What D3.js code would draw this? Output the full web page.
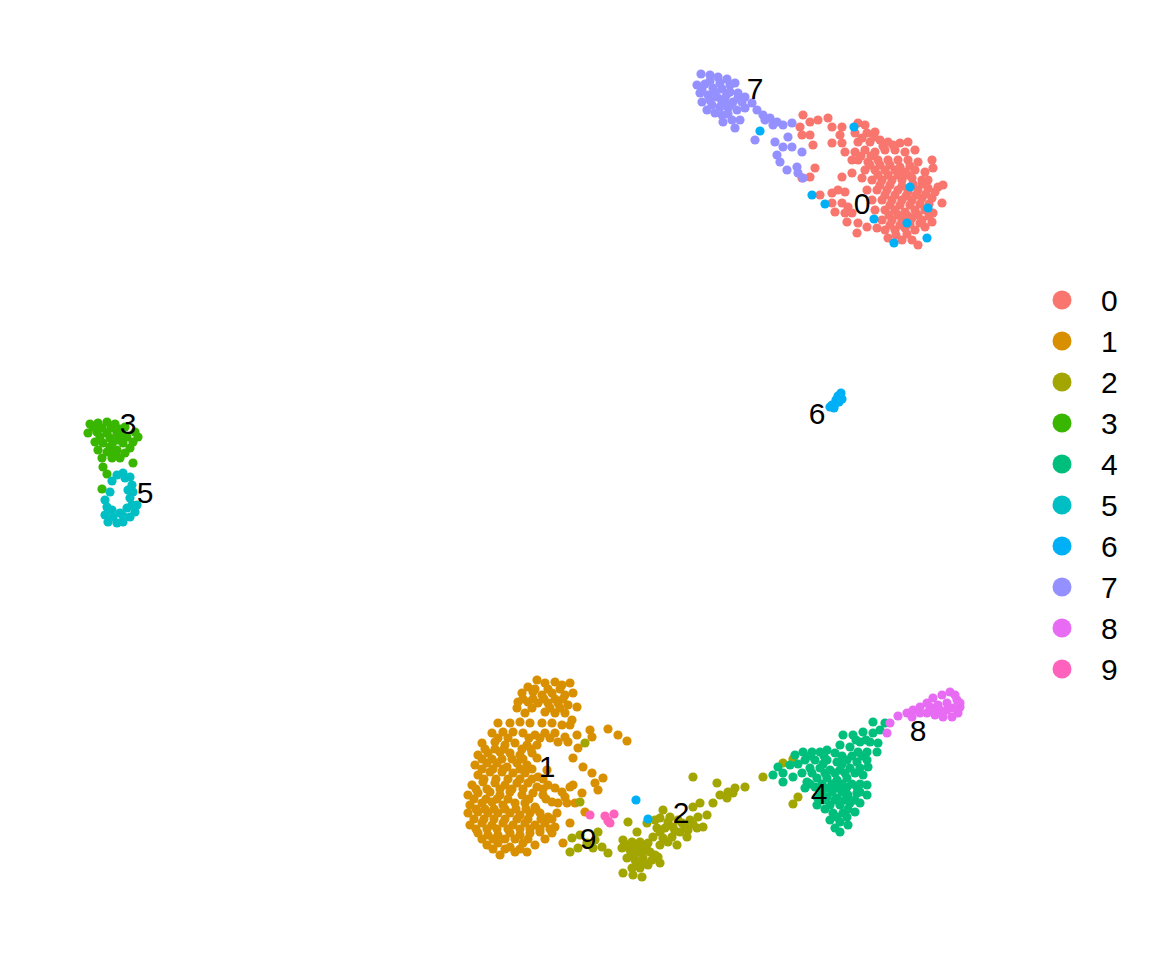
<!DOCTYPE html>
<html>
<head>
<meta charset="utf-8">
<script src="https://cdn.jsdelivr.net/npm/d3@7"></script>
<style>
  body { margin: 0; background: #fff; }
  svg { display: block; }
</style>
</head>
<body>
<svg width="1152" height="960"></svg>
<script>
// cluster ids
const clusters = ["0", "1", "2", "3", "4", "5", "6", "7", "8", "9"];

// UMAP coordinates per cluster, [UMAP_1, UMAP_2]
const c0 = [
  [28.3,36.5],[29.0,35.8],[28.0,35.3],[28.2,34.5],[29.0,34.5],[29.3,33.5],[29.8,36.0],[30.8,36.2],[31.2,35.3],[32.2,35.3],
  [32.0,34.5],[31.2,33.7],[32.2,33.7],[32.5,32.8],[33.2,32.0],[29.5,31.2],[29.0,30.3],[28.2,30.2],[32.2,30.3],[33.2,30.7],
  [30.0,28.5],[31.2,28.7],[31.8,29.0],[32.5,28.8],[31.2,27.7],[32.2,27.7],[32.8,27.3],[31.5,26.8],[32.5,26.7],[33.2,26.7],
  [32.7,25.8],[33.8,25.7],[33.7,24.7],[34.7,25.3],[35.7,25.2],
  [33.8,35.7],[34.5,35.5],[33.5,34.7],[34.7,34.7],[35.5,34.8],
  [33.8,33.8],[35.0,33.8],[36.0,34.0],[36.8,33.8],[38.0,33.7],[38.8,33.8],
  [33.5,32.8],[34.5,33.0],[35.5,32.8],[36.5,33.0],[37.5,33.0],[38.5,32.8],[39.5,33.0],
  [33.8,32.0],[34.8,31.8],[35.8,32.0],[36.8,32.0],[37.8,32.0],[38.8,32.0],[39.8,31.8],
  [34.5,31.0],[35.5,31.0],[36.5,31.0],[37.5,31.0],[38.5,30.8],[39.5,31.0],[40.5,30.8],[41.2,32.0],[41.3,31.2],
  [34.2,30.2],[35.2,30.0],[36.2,30.0],[37.2,30.0],[38.2,30.0],[39.2,30.2],[40.2,30.0],[40.8,30.0],
  [34.7,29.0],[35.7,29.0],[36.7,29.0],[37.8,29.0],[38.8,28.8],[39.8,29.0],[40.8,29.2],[41.8,29.3],[42.3,29.5],
  [35.2,28.0],[36.2,28.0],[37.2,28.0],[38.2,28.0],[39.2,28.0],[40.2,28.2],[41.2,28.2],[42.2,27.7],
  [35.5,27.0],[36.5,27.0],[37.5,27.0],[38.5,26.8],[39.5,27.0],[40.5,27.0],[41.3,26.7],
  [36.2,26.0],[37.2,26.0],[38.2,26.0],[39.2,26.2],[40.2,26.0],[41.2,25.8],
  [36.5,25.0],[37.5,25.0],[38.5,25.2],[39.5,25.0],[40.5,25.3],
  [36.8,24.2],[38.2,24.0],[39.2,24.0],[39.8,23.5],
  [35.0,31.5],[36.0,31.5],[37.0,31.5],[38.0,31.3],[39.0,31.4],[35.8,30.5],[36.8,30.5],[37.8,30.5],[38.8,30.5],
  [36.0,29.5],[37.0,29.5],[38.2,29.4],[39.3,29.6],[36.5,28.5],[37.5,28.5],[38.6,28.4],[39.6,28.5],
  [37.0,27.5],[38.0,27.5],[39.0,27.5],[40.0,27.6],[37.8,26.5],[38.8,26.4],[39.8,26.5],
  [34.2,34.2],[35.4,34.3],[36.3,33.4],[37.3,33.5],[34.1,32.4],[35.1,32.4],[40.2,29.6],[40.6,28.6],[41.5,28.8],[40.9,27.6],
  [36.9,26.5],[40.9,26.4],[37.0,25.5],[38.0,25.5],[39.0,25.6],[40.0,25.7],[37.6,24.5],[38.7,24.6]
];
const c1 = [
  [1.7,-20.0],[2.5,-20.3],[3.5,-20.2],[4.2,-20.5],[5.0,-20.3],[0.8,-20.7],[0.2,-21.3],[1.3,-21.2],[2.2,-21.5],[3.2,-21.3],
  [4.5,-21.5],[5.3,-21.3],[-0.2,-22.2],[0.8,-22.2],[1.8,-22.3],[2.8,-22.3],[3.8,-22.3],[4.8,-22.5],[5.7,-22.7],[-0.3,-22.8],
  [0.5,-23.3],[2.5,-23.2],[3.5,-23.3],[4.5,-23.3],[5.2,-24.0],
  [-2.2,-24.3],[-1.0,-24.3],[0.0,-24.2],[1.0,-24.3],[2.2,-24.3],[3.2,-24.3],[4.2,-24.5],[5.0,-24.5],
  [-2.8,-25.3],[-1.7,-25.2],[-0.7,-25.2],[0.3,-25.3],[1.5,-25.5],[2.5,-25.3],[3.5,-25.3],[4.5,-25.7],[5.7,-25.5],
  [-3.8,-26.3],[-2.5,-26.2],[-1.5,-26.5],[-0.5,-26.3],[0.7,-26.5],[1.7,-26.5],[3.8,-26.2],[4.8,-26.2],
  [-4.2,-27.5],[-3.2,-27.3],[-2.0,-27.2],[-1.0,-27.3],[0.0,-27.5],[1.2,-27.3],[1.7,-27.8],
  [-4.5,-28.5],[-3.3,-28.3],[-2.3,-28.3],[-1.3,-28.7],[-0.3,-28.3],[0.7,-28.5],
  [-4.2,-29.5],[-3.0,-29.2],[-1.8,-29.2],[-0.7,-29.3],[0.5,-29.3],[1.8,-29.7],[2.7,-29.0],
  [-4.8,-30.5],[-3.7,-30.2],[-2.5,-30.3],[-1.5,-30.5],[-0.3,-30.3],[0.8,-30.3],[1.7,-30.7],[2.8,-30.5],[3.5,-30.8],[4.2,-31.2],[5.0,-30.7],
  [-5.2,-31.5],[-4.2,-31.3],[-3.0,-31.2],[-2.0,-31.5],[-1.0,-31.2],[0.2,-31.5],[1.3,-31.3],[2.3,-31.5],
  [-5.0,-32.5],[-3.8,-32.3],[-2.8,-32.2],[-1.7,-32.5],[-0.5,-32.3],[0.5,-32.3],[1.5,-32.7],[3.2,-32.2],[3.8,-32.3],[4.7,-32.3],
  [-5.2,-33.3],[-4.2,-33.2],[-3.2,-33.3],[-2.2,-33.3],[-1.0,-33.3],[0.0,-33.5],[1.0,-33.3],[2.0,-33.3],[2.8,-33.7],[3.7,-33.3],
  [-5.0,-34.5],[-3.8,-34.3],[-2.8,-34.5],[-1.7,-34.3],[-0.7,-34.5],[0.5,-34.3],[1.5,-34.5],[2.5,-34.3],[3.5,-34.7],[5.0,-34.3],
  [-4.2,-35.3],[-3.2,-35.5],[-2.2,-35.5],[-1.0,-35.3],[0.0,-35.5],[1.0,-35.3],[2.0,-35.2],[3.2,-35.3],[4.3,-36.3],
  [-3.3,-36.5],[-2.2,-36.3],[-1.0,-36.7],[0.3,-36.3],[1.5,-36.5],
  [-2.0,-37.5],[-0.5,-37.2],[0.7,-37.2],
  [7.0,-25.0],[7.2,-25.7],[8.8,-24.9],[9.8,-25.5],[10.7,-26.1],[5.8,-26.8],[5.3,-27.8],[6.3,-28.7],[7.2,-29.3],[8.3,-29.8],
  [7.5,-30.3],[7.8,-31.0],[6.2,-31.3],[5.3,-30.5],[4.5,-31.7],[5.5,-32.3],[6.5,-33.2],
  [1.5,-20.9],[2.8,-20.9],[4.0,-20.9],[0.3,-21.9],[1.3,-21.9],[2.4,-21.9],[3.5,-21.9],[4.3,-21.9],[1.2,-22.8],[3.0,-22.8],[4.0,-22.8],
  [-2.2,-25.8],[-1.2,-25.8],[0.9,-25.8],[2.0,-25.8],[3.0,-25.8],
  [-3.5,-26.9],[-2.5,-26.9],[-1.6,-26.9],[0.2,-26.9],[1.1,-26.9],
  [-3.8,-27.9],[-2.8,-27.9],[-1.8,-27.9],[-0.8,-27.9],[0.3,-27.9],
  [-3.8,-28.9],[-2.7,-28.9],[-1.7,-28.9],[0.0,-28.9],[1.2,-28.9],
  [-3.6,-29.9],[-2.4,-29.9],[-1.2,-29.9],[0.0,-29.9],[1.2,-29.9],[2.3,-29.9],
  [-4.4,-30.9],[-3.3,-30.9],[-2.0,-30.9],[-0.8,-30.9],[0.3,-30.9],[2.3,-30.9],
  [-4.6,-31.9],[-3.4,-31.9],[-2.3,-31.9],[-1.2,-31.9],[0.9,-31.9],[2.6,-31.9],
  [-4.4,-32.9],[-3.5,-32.9],[-2.6,-32.9],[-1.5,-32.9],[-0.4,-32.9],[0.6,-32.9],[1.6,-32.9],
  [-4.6,-33.9],[-3.6,-33.9],[-2.6,-33.9],[-1.5,-33.9],[-0.3,-33.9],[0.8,-33.9],[2.1,-33.9],[3.2,-33.9],
  [-4.4,-34.9],[-3.3,-34.9],[-2.3,-34.9],[-1.2,-34.9],[0.0,-34.9],[1.0,-34.9],[2.0,-34.9],[3.0,-34.9],
  [-3.8,-35.9],[-2.7,-35.9],[-1.5,-35.9],[-0.5,-35.9],[0.8,-35.9],[2.5,-35.9],
  [-2.7,-36.9],[-1.5,-36.9],[0.0,-36.9]
];
const c2 = [
  [6.5,-26.3],[6.0,-32.2],
  [5.2,-35.8],[6.0,-35.5],[6.7,-36.3],[7.5,-36.0],[8.2,-36.7],[8.8,-37.3],[5.0,-37.2],[5.8,-36.8],[7.3,-36.8],[7.8,-35.2],
  [10.8,-34.2],[11.7,-35.2],[10.3,-36.0],[11.2,-36.2],[12.0,-36.2],[12.8,-36.3],[10.2,-36.8],[11.0,-37.0],[11.8,-37.2],[12.7,-37.0],
  [13.5,-37.5],[10.7,-37.8],[11.5,-38.0],[12.3,-37.8],[13.2,-38.0],[14.0,-38.3],[11.2,-38.8],[12.0,-38.8],[12.8,-38.5],[10.3,-39.3],
  [11.3,-39.5],[12.2,-39.7],[13.8,-37.7],
  [12.7,-34.3],[13.5,-34.0],[14.3,-33.0],[14.0,-33.8],[15.0,-33.7],[13.7,-34.8],[14.5,-34.8],[15.3,-34.7],[16.2,-34.3],[17.0,-34.0],
  [17.8,-33.7],[18.7,-33.5],[17.3,-32.7],[18.0,-32.3],[19.3,-32.3],[14.3,-35.8],[15.2,-35.7],[16.0,-35.2],[16.8,-35.0],[17.7,-34.8],
  [18.3,-34.7],[15.7,-36.5],[14.0,-36.5],[14.8,-36.2],[16.7,-35.7],[13.3,-35.7],
  [20.0,-31.5],[20.8,-31.2],[21.5,-30.8],[20.7,-31.8],[22.5,-30.7],[19.7,-30.3],[17.3,-29.7],[21.3,-31.3],
  [24.3,-29.7],[26.3,-28.3],[27.3,-27.9],[27.8,-31.7],[27.3,-32.4],
  [10.7,-36.5],[11.5,-36.6],[12.3,-36.7],[11.4,-37.5],[12.2,-37.3],[13.0,-37.2],[11.7,-38.4],[12.5,-38.3],
  [14.8,-34.2],[15.8,-34.0],[16.5,-34.7],[17.3,-34.4],[14.0,-35.2],[15.5,-35.1]
];
const c3 = [
  [-43.0,5.6],[-42.2,5.7],[-41.3,5.8],[-40.5,5.6],[-39.5,5.3],[-38.5,4.8],[-38.2,4.3],[-43.2,4.7],[-42.3,4.8],[-41.3,4.7],
  [-40.3,4.7],[-39.3,4.3],[-38.7,3.8],[-42.5,3.8],[-41.7,3.7],[-40.7,3.8],[-39.7,3.7],[-39.0,3.2],[-42.2,3.0],[-41.3,2.8],
  [-40.3,3.0],[-39.5,2.7],[-41.8,2.2],[-40.8,2.2],[-40.0,2.2],[-41.7,1.3],[-38.7,1.7],[-41.3,0.6],[-41.8,-0.9],[-41.0,3.3],
  [-42.7,5.3],[-40.0,5.1],
  [-41.8,5.2],[-40.9,5.2],[-39.9,4.5],[-42.0,4.3],[-41.0,4.2],[-40.2,4.0],[-40.6,2.6]
];
const c4 = [
  [35.3,-24.2],[36.5,-24.3],[34.3,-25.2],[35.3,-25.3],[36.0,-25.0],[32.3,-25.5],[33.3,-25.5],[34.0,-26.2],[35.0,-26.2],[35.8,-26.3],
  [32.0,-26.5],[33.0,-26.7],[33.8,-27.2],[34.7,-27.2],[35.7,-27.2],[30.7,-27.0],[31.5,-27.3],[30.0,-27.2],[29.2,-27.2],[28.3,-27.2],
  [27.5,-27.5],[28.5,-28.0],[29.5,-28.0],[30.7,-28.0],[31.7,-28.2],[32.7,-28.0],[33.7,-28.2],[34.7,-28.0],[25.8,-28.7],[27.0,-28.5],
  [26.3,-29.3],[25.3,-29.5],[27.3,-29.7],[29.0,-28.8],[30.0,-28.8],[31.0,-29.0],[32.0,-29.0],[33.0,-28.8],[34.0,-28.8],[34.8,-28.7],
  [29.7,-29.8],[30.7,-29.8],[31.7,-30.0],[32.7,-29.8],[34.3,-29.5],[28.7,-30.2],[26.3,-30.2],[28.5,-30.8],[29.5,-30.7],[30.7,-30.8],
  [31.7,-30.8],[32.7,-30.7],[33.7,-30.7],[34.7,-30.5],[29.7,-31.7],[30.7,-31.7],[31.7,-31.8],[32.8,-31.5],[33.7,-31.3],[34.7,-31.5],
  [29.7,-32.5],[31.0,-32.5],[32.0,-32.5],[33.0,-32.3],[34.0,-32.3],[31.3,-33.3],[32.3,-33.3],[33.5,-33.2],[31.0,-34.0],[32.0,-34.2],
  [32.8,-34.5],[31.5,-34.8],[32.0,-35.2],
  [33.6,-26.0],[34.6,-26.0],[29.0,-27.6],[30.4,-27.6],[32.2,-27.6],[33.2,-27.6],[34.2,-27.6],[27.8,-28.4],[30.3,-28.4],[32.2,-28.4],
  [28.2,-29.3],[29.2,-29.3],[30.5,-29.3],[31.5,-29.3],[32.5,-29.3],[33.5,-29.3],
  [29.0,-30.4],[30.2,-30.4],[31.2,-30.4],[32.2,-30.4],[33.2,-30.4],[34.0,-30.4],
  [30.2,-31.2],[31.2,-31.2],[32.2,-31.2],[34.0,-31.2],[30.3,-32.0],[31.5,-32.0],[32.5,-32.0],[33.5,-32.0],
  [30.5,-32.9],[32.8,-32.9],[31.7,-33.7],[32.7,-33.7]
];
const c5 = [
  [-40.3,0.5],[-39.7,0.7],[-39.0,0.3],[-40.8,-0.1],[-38.8,-0.5],[-38.7,-1.2],[-39.0,-1.8],[-38.3,-2.5],[-38.5,-3.2],[-39.0,-3.7],
  [-39.7,-4.2],[-40.3,-4.3],[-41.2,-4.2],[-41.5,-3.5],[-41.3,-2.7],[-41.5,-2.0],[-41.0,-1.2],[-40.0,-3.3],[-39.3,-2.8],[-40.7,-3.7],
  [-39.7,-3.6],[-38.8,-2.5],[-40.8,-3.0],[-39.5,0.2],[-39.2,-1.0]
];
const c6 = [
  [31.8,8.4],[32.1,8.7],[31.6,8.0],[32.2,8.1],[31.2,7.5],[31.5,7.6],[31.9,7.8],[31.0,7.3],[31.4,7.2],[32.0,8.5],
  [24.0,34.9],[33.4,35.3],[39.0,29.3],[29.2,28.5],[30.5,27.6],[35.4,26.1],[38.7,25.7],[40.8,27.2],[37.4,23.7],[40.7,24.2],
  [11.6,-32.0],[12.8,-33.9]
];
const c7 = [
  [18.1,40.6],[19.0,40.5],[19.8,40.3],[20.7,40.1],[21.5,39.7],[17.7,39.5],[18.5,39.6],[19.3,39.2],[20.2,39.1],[21.0,38.8],
  [21.8,38.7],[22.5,38.3],[18.0,38.7],[18.8,38.5],[19.7,38.3],[20.5,38.2],[21.3,37.8],[22.2,37.8],[18.2,37.8],[19.2,37.5],
  [20.0,37.3],[20.8,37.2],[21.7,37.0],[20.2,36.5],[21.2,36.0],[22.0,36.0],[21.5,35.2],[20.3,35.8],[18.7,37.0],[19.5,36.7],
  [23.2,37.7],[23.7,37.0],[24.3,36.5],[25.0,36.2],[25.7,35.8],[26.3,35.5],[27.2,35.7],[24.5,36.0],[25.3,35.5],[23.5,34.0],
  [25.5,33.8],[26.3,33.3],[27.2,33.3],[26.8,34.3],[28.2,32.8],[25.7,32.5],[26.0,31.8],[26.7,31.0],[27.7,31.3],[27.8,30.7],
  [28.3,30.2],
  [19.0,39.9],[20.0,39.7],[21.0,39.5],[18.2,39.1],[19.5,38.8],[20.7,38.6],[21.8,38.2],[19.0,38.0],[20.2,37.8],[21.0,37.5],
  [22.5,37.2],[20.8,36.6]
];
const c8 = [
  [37.0,-24.3],[36.7,-25.3],[37.8,-23.6],[38.7,-23.3],[39.3,-23.0],[40.0,-22.7],[40.7,-22.3],[41.3,-21.8],[42.2,-21.5],[43.0,-21.2],
  [43.7,-22.0],[44.0,-22.7],[43.8,-23.3],[43.2,-23.7],[42.3,-23.7],[41.5,-23.5],[40.7,-23.3],[40.0,-23.3],[41.0,-22.7],[41.8,-22.5],
  [42.7,-22.3],[43.3,-22.8],[42.7,-23.0],[42.0,-23.0],[41.3,-23.0],[43.5,-21.5],[44.0,-22.3],[39.2,-23.7]
];
const c9 = [
  [7.0,-33.5],[8.5,-33.6],[9.0,-34.3],[9.4,-33.4],[8.8,-34.1]
];

// cluster label positions (medians)
const labelPos = [
  [34.2,27.7],[2.7,-28.6],[16.1,-33.2],[-39.2,5.7],[29.9,-31.3],
  [-37.5,-1.2],[29.7,6.7],[23.5,39.2],[39.8,-25.0],[6.8,-35.8]
];

const pointsByCluster = [c0, c1, c2, c3, c4, c5, c6, c7, c8, c9];

const width = 1152, height = 960;

const x = d3.scaleLinear().domain([-50, 50]).range([20, 1020]);
const y = d3.scaleLinear().domain([-50, 50]).range([980, -20]);

// ggplot default hue palette
const color = d3.scaleOrdinal()
  .domain(clusters)
  .range(["#F8766D", "#D89000", "#A3A500", "#39B600", "#00BF7D",
          "#00BFC4", "#00B0F6", "#9590FF", "#E76BF3", "#FF62BC"]);

const svg = d3.select("svg");

const data = [];
pointsByCluster.forEach((pts, i) => {
  pts.forEach(p => data.push({ cluster: clusters[i], u: p[0], v: p[1] }));
});

svg.append("g")
  .selectAll("circle")
  .data(data)
  .join("circle")
    .attr("cx", d => x(d.u))
    .attr("cy", d => y(d.v))
    .attr("r", 4.6)
    .attr("fill", d => color(d.cluster));

svg.append("g")
    .style("font", "30px 'Liberation Sans', Arial, sans-serif")
    .attr("text-anchor", "middle")
  .selectAll("text")
  .data(clusters)
  .join("text")
    .attr("x", (d, i) => x(labelPos[i][0]))
    .attr("y", (d, i) => y(labelPos[i][1]))
    .attr("dy", "0.36em")
    .text(d => d);

// legend
const legend = svg.append("g")
    .attr("transform", "translate(1062,300)")
    .style("font", "30px 'Liberation Sans', Arial, sans-serif");

const row = legend.selectAll("g")
  .data(clusters)
  .join("g")
    .attr("transform", (d, i) => `translate(0,${i * 41})`);

row.append("circle")
    .attr("r", 9.5)
    .attr("fill", d => color(d));

row.append("text")
    .attr("x", 39)
    .attr("dy", "0.36em")
    .text(d => d);
</script>
</body>
</html>
